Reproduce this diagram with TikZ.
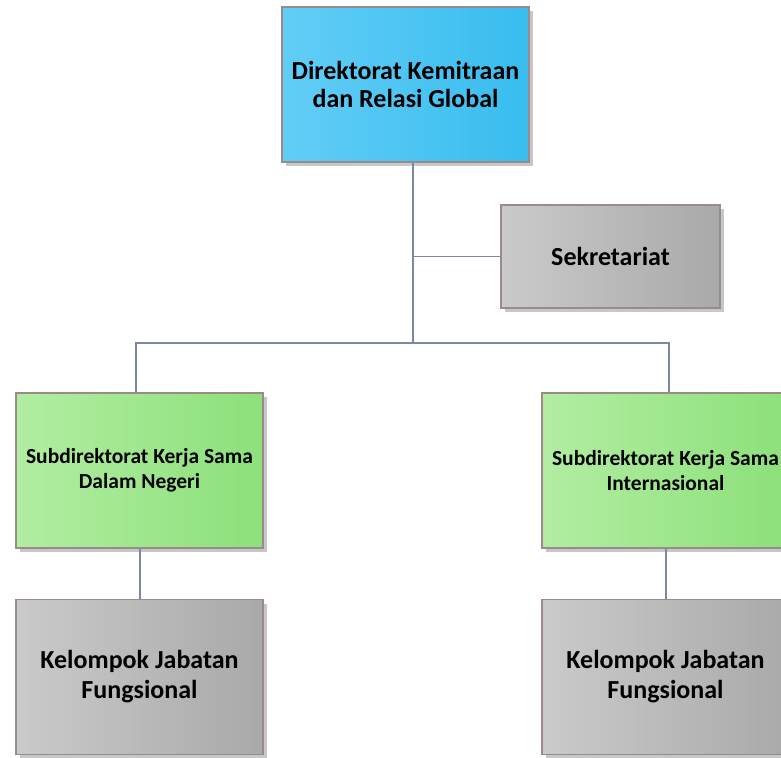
\documentclass[tikz,border=0pt]{standalone}
\usepackage{fontspec}
\setmainfont{Carlito}
\usetikzlibrary{shadows,calc}

\definecolor{blueL}{HTML}{62CDF6}
\definecolor{blueR}{HTML}{38BDEF}
\definecolor{greenL}{HTML}{B2EDA2}
\definecolor{greenR}{HTML}{8CE07A}
\definecolor{grayL}{HTML}{CACACA}
\definecolor{grayR}{HTML}{A9A9A9}
\definecolor{edge}{HTML}{9A8A8A}
\definecolor{wire}{HTML}{7C87A2}

\tikzset{
  unit/.style={draw=edge, line width=1.3pt, align=center, inner sep=2pt,
    minimum width=247pt, minimum height=155pt,
    drop shadow={shadow xshift=4pt, shadow yshift=-4pt, fill=black!22, opacity=1}},
  dirbox/.style={unit, left color=blueL, right color=blueR,
    font=\bfseries\fontsize{26}{28}\selectfont},
  subbox/.style={unit, left color=greenL, right color=greenR,
    font=\bfseries\fontsize{21.5}{25}\selectfont},
  grpbox/.style={unit, left color=grayL, right color=grayR,
    font=\bfseries\fontsize{26}{30}\selectfont},
  sekbox/.style={grpbox, minimum width=219pt, minimum height=103pt},
  wirestyle/.style={draw=wire, line width=1.6pt}
}

\begin{document}
\begin{tikzpicture}[x=1pt, y=-1pt]
  \useasboundingbox[fill=white] (0,0) rectangle (781,757);

  % units
  \node[dirbox] (dir)  at (405.5, 84.5) {Direktorat Kemitraan\\dan Relasi Global};
  \node[sekbox] (sek)  at (610.5, 256.5) {Sekretariat};
  \node[subbox] (subL) at (139.5, 470.5) {Subdirektorat Kerja Sama\\Dalam Negeri};
  \node[subbox] (subR) at (665.5, 470.5) {Subdirektorat Kerja Sama\\Internasional};
  \node[grpbox] (kelL) at (139.5, 677) {Kelompok Jabatan\\Fungsional};
  \node[grpbox] (kelR) at (665.5, 677) {Kelompok Jabatan\\Fungsional};

  % routing points
  \coordinate (trunk) at (413, 343);
  \coordinate (busL)  at (136, 343);
  \coordinate (busR)  at (669, 343);
  \coordinate (dropL) at (140, 0);
  \coordinate (dropR) at (666, 0);

  % connectors
  \draw[wirestyle] (dir.south -| trunk) -- (trunk);
  \draw[wirestyle] (trunk |- sek.west) -- (sek.west);
  \draw[wirestyle] (subL.north -| busL) -- (busL) -- (busR) -- (subR.north -| busR);
  \draw[wirestyle] (subL.south -| dropL) -- (kelL.north -| dropL);
  \draw[wirestyle] (subR.south -| dropR) -- (kelR.north -| dropR);
\end{tikzpicture}
\end{document}
